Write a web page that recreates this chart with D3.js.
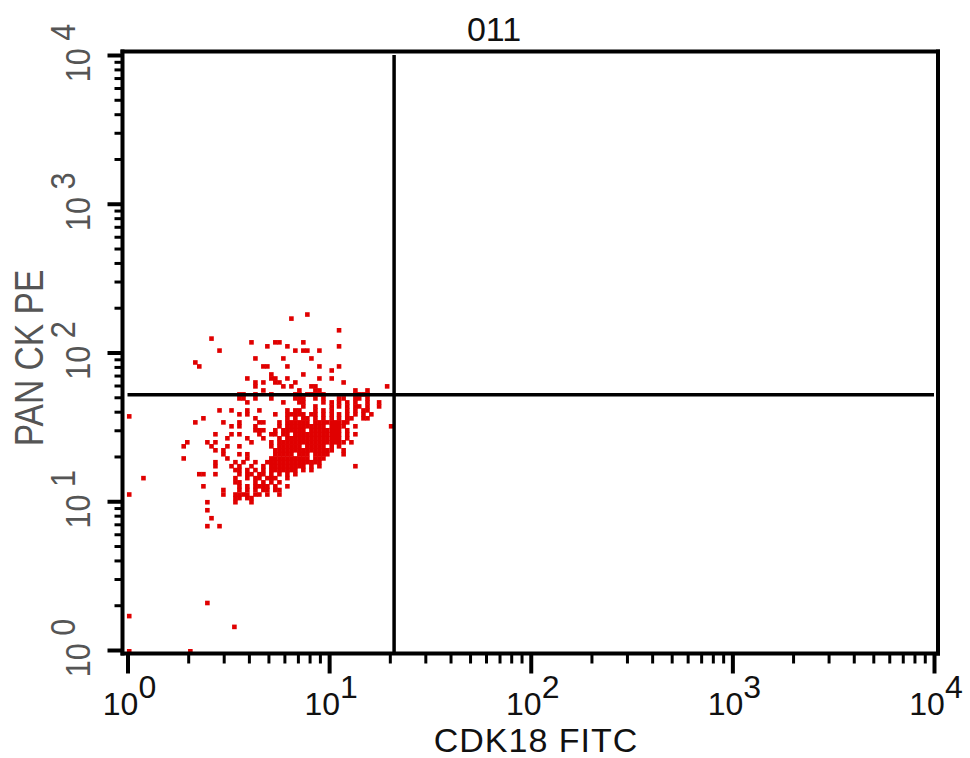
<!DOCTYPE html>
<html>
<head>
<meta charset="utf-8">
<script src="https://cdn.jsdelivr.net/npm/d3@7"></script>
<style>
  body { margin: 0; background: #fff; }
  svg { display: block; }
  text { font-family: "Liberation Sans", Arial, sans-serif; }
</style>
</head>
<body>
<svg id="chart" width="970" height="758"></svg>
<script>
// Sample and channel names
const sampleName = "011";
const xChannel = "CDK18 FITC";
const yChannel = "PAN CK PE";

// Decade ticks shared by both log axes
const decades = [1, 10, 100, 1000, 10000];
const decadeExponents = ["0", "1", "2", "3", "4"];

// Quadrant gate thresholds
const cdk18Gate = 21;
const panCkGate = 52;

// Event intensities: one PAN CK PE level per row, with the CDK18 FITC
// intensities of the events recorded at that level
const panCkPe = [180, 169, 141, 124, 117, 110, 103, 91.2, 85.7, 80.6,
  75.7, 71.2, 66.9, 62.9, 59.2, 55.6, 52.3, 49.1, 46.2, 43.4,
  40.8, 38.4, 37.2, 36.1, 33.9, 31.9, 30.0, 28.2, 26.5, 24.9,
  23.4, 22.0, 20.7, 19.4, 18.3, 17.2, 16.2, 15.2, 14.3, 13.4,
  12.6, 11.9, 11.1, 10.5, 9.85, 8.70, 7.69, 6.80, 2.07, 1.69,
  1.43, 0.98];

const cdk18Fitc = [
  [7.80],
  [6.50],
  [11.2],
  [2.61],
  [4.12, 5.41, 5.67, 7.45],
  [4.94, 6.21, 11.2],
  [2.86, 6.80, 7.45, 7.80, 8.95],
  [4.31, 5.93, 8.17],
  [2.17],
  [2.27, 4.72, 4.94, 6.21, 8.95, 11.2],
  [10.3],
  [5.17, 7.45],
  [3.93, 5.17, 5.41, 6.21, 8.95, 10.3],
  [4.31, 4.72, 5.41, 5.67, 6.80, 11.8],
  [4.31, 5.93, 6.50, 8.17, 8.55, 19.4],
  [4.72, 7.12, 8.55, 8.95, 13.5, 15.5],
  [3.59, 3.76, 4.31, 5.17, 6.80, 7.12, 7.80, 8.17, 8.55, 8.95, 9.37, 13.5, 14.1, 14.8, 15.5],
  [3.59, 3.76, 4.31, 5.17, 6.80, 7.12, 7.45, 8.55, 9.37, 11.2, 11.8, 13.5, 14.1, 15.5],
  [3.93, 5.93, 7.12, 7.45, 9.37, 10.3, 11.2, 12.3, 13.5, 15.5, 17.7],
  [7.45, 8.55, 10.3, 11.2, 12.3, 13.5, 14.1, 15.5, 17.7],
  [2.86, 3.28, 3.93, 4.51, 6.21, 6.80, 7.12, 8.55, 9.37, 10.3, 12.3, 13.5, 14.8, 15.5],
  [3.59, 3.93, 5.41, 6.21, 6.50, 6.80, 7.12, 7.45, 8.17, 8.55, 9.37, 10.3, 11.2, 12.3, 13.5, 14.8, 16.2],
  [1.02],
  [2.38, 4.31, 6.21, 6.80, 7.45, 7.80, 8.55, 9.37, 10.3, 11.2, 12.3, 12.9, 14.8, 15.5],
  [2.17, 2.99, 3.59, 4.51, 4.72, 5.67, 6.21, 6.50, 6.80, 7.12, 7.45, 7.80, 8.55, 8.95, 9.37, 9.80, 10.3, 10.7, 11.2, 11.8, 12.3],
  [3.28, 3.59, 4.31, 5.67, 6.21, 6.50, 6.80, 7.12, 7.45, 7.80, 8.17, 8.55, 8.95, 9.37, 10.3, 10.7, 11.2, 11.8, 13.5, 20.3],
  [4.31, 4.51, 4.72, 5.41, 5.93, 6.21, 6.50, 6.80, 7.12, 7.45, 8.17, 8.55, 8.95, 9.37, 9.80, 10.3, 10.7, 11.2, 12.3],
  [2.73, 3.28, 3.59, 4.51, 5.17, 5.41, 5.93, 6.21, 6.80, 7.12, 7.45, 7.80, 8.17, 8.55, 8.95, 9.37, 9.80, 10.3, 10.7, 11.2, 12.3, 13.5],
  [3.13, 3.93, 4.72, 5.67, 6.21, 6.50, 6.80, 7.12, 7.45, 7.80, 8.17, 8.55, 8.95, 9.37, 9.80, 10.3, 10.7, 11.2, 12.3],
  [1.98, 2.49, 2.73, 4.12, 5.17, 5.67, 5.93, 6.21, 6.50, 6.80, 7.12, 7.45, 7.80, 8.17, 8.55, 8.95, 9.37, 9.80, 10.3, 10.7, 11.2, 11.8, 12.9],
  [1.90, 2.61, 3.13, 3.59, 5.17, 5.67, 5.93, 6.21, 6.50, 6.80, 7.12, 7.80, 8.17, 8.55, 8.95, 9.37, 10.3, 11.2],
  [2.73, 2.99, 5.41, 5.67, 5.93, 6.21, 6.50, 6.80, 7.12, 7.45, 7.80, 8.17, 8.55, 8.95, 9.37, 9.80, 10.3, 11.8],
  [2.99, 3.59, 3.93, 5.41, 5.67, 5.93, 6.21, 6.50, 7.12, 7.45, 7.80, 8.55, 8.95, 9.37, 9.80, 11.8],
  [1.90, 3.13, 3.93, 5.17, 5.41, 5.67, 5.93, 6.21, 6.50, 6.80, 7.12, 7.45, 7.80, 8.55, 8.95, 9.37],
  [2.73, 3.43, 3.76, 4.31, 4.94, 5.17, 5.41, 5.67, 5.93, 6.21, 6.50, 6.80, 7.12, 7.45, 7.80, 8.17, 8.55, 8.95],
  [2.73, 3.28, 3.59, 4.12, 4.72, 5.17, 5.41, 5.67, 5.93, 6.21, 6.50, 6.80, 7.12, 7.45, 8.17, 8.95, 13.5],
  [3.43, 3.59, 3.93, 4.31, 4.72, 5.17, 5.41, 5.67, 5.93, 6.21, 6.50, 6.80, 7.45, 8.17],
  [2.27, 2.38, 2.73, 3.59, 3.93, 4.12, 4.51, 4.72, 5.17, 5.67, 6.21, 6.80],
  [1.20, 3.43, 3.93, 4.31, 4.51, 4.94, 5.17, 5.41, 6.21],
  [3.43, 3.59, 4.31, 4.72, 5.17, 5.67],
  [2.38, 3.59, 3.93, 4.31, 4.51, 4.72, 4.94, 5.41, 6.21],
  [2.99, 3.59, 3.93, 4.31, 4.72, 4.94, 5.41, 5.67],
  [1.02, 2.99, 3.43, 3.59, 3.76, 3.93, 4.31, 4.51, 4.94, 5.67],
  [3.43, 3.59, 3.93, 4.12],
  [2.49, 3.43, 4.12],
  [2.49],
  [2.61],
  [2.49, 2.86],
  [2.49],
  [1.02],
  [3.39],
  [1.02, 2.05]
];

// ---- layout ----
const W = 970, H = 758;
const frame = { left: 122.5, right: 938, top: 51.5, bottom: 653.5 };
const dotColor = "#e00000";
const dotSize = 4.6;

const svg = d3.select("#chart");
svg.append("rect").attr("width", W).attr("height", H).attr("fill", "#fff");

const x = d3.scaleLog().domain([1, 1e4]).range([127.5, 934]);
const y = d3.scaleLog().domain([1, 1e4]).range([650, 55]);

const isDecade = v => Math.abs(Math.log10(v) - Math.round(Math.log10(v))) < 1e-9;
const majorX = x.ticks().filter(isDecade);
const minorX = x.ticks().filter(v => !isDecade(v));
const majorY = y.ticks().filter(isDecade);
const minorY = y.ticks().filter(v => !isDecade(v));

// ---- events ----
const events = panCkPe.flatMap((pe, i) => cdk18Fitc[i].map(fitc => ({ fitc, pe })));

svg.append("g")
  .selectAll("rect")
  .data(events)
  .join("rect")
  .attr("x", d => x(d.fitc) - dotSize / 2)
  .attr("y", d => y(d.pe) - dotSize / 2)
  .attr("width", dotSize)
  .attr("height", dotSize)
  .attr("fill", dotColor);

// ---- quadrant gate ----
const gate = svg.append("g").attr("stroke", "#000").attr("stroke-width", 3.5);
gate.append("line")
  .attr("x1", x(cdk18Gate)).attr("x2", x(cdk18Gate))
  .attr("y1", y(1e4)).attr("y2", frame.bottom);
gate.append("line")
  .attr("x1", x(1)).attr("x2", x(1e4))
  .attr("y1", y(panCkGate)).attr("y2", y(panCkGate));

// ---- axes ----
function styleTicks(g, width) {
  g.select(".domain").remove();
  g.selectAll(".tick line").attr("stroke", "#000").attr("stroke-width", width);
  g.selectAll(".tick text").remove();
}

svg.append("g").attr("transform", `translate(0,${frame.bottom})`)
  .call(d3.axisBottom(x).tickValues(minorX).tickSize(10).tickSizeOuter(0))
  .call(g => styleTicks(g, 3));
svg.append("g").attr("transform", `translate(0,${frame.bottom})`)
  .call(d3.axisBottom(x).tickValues(majorX).tickSize(20).tickSizeOuter(0))
  .call(g => styleTicks(g, 4));

svg.append("g").attr("transform", `translate(${frame.left},0)`)
  .call(d3.axisLeft(y).tickValues(minorY).tickSize(8).tickSizeOuter(0))
  .call(g => styleTicks(g, 3));
svg.append("g").attr("transform", `translate(${frame.left},0)`)
  .call(d3.axisLeft(y).tickValues(majorY).tickSize(15).tickSizeOuter(0))
  .call(g => styleTicks(g, 4));

// frame
const border = svg.append("g").attr("stroke", "#000").attr("stroke-width", 4).attr("stroke-linecap", "square");
border.append("line").attr("x1", frame.left).attr("x2", frame.right).attr("y1", frame.top).attr("y2", frame.top);
border.append("line").attr("x1", frame.right).attr("x2", frame.right).attr("y1", frame.top).attr("y2", frame.bottom);
border.append("line").attr("x1", frame.left).attr("x2", frame.right).attr("y1", frame.bottom).attr("y2", frame.bottom);
border.append("line").attr("x1", frame.left).attr("x2", frame.left).attr("y1", frame.top).attr("y2", frame.bottom);

// ---- tick labels ----
svg.append("g").selectAll("text")
  .data(decades)
  .join("text")
  .attr("x", d => x(d) + 2)
  .attr("y", 715)
  .attr("text-anchor", "middle")
  .attr("font-size", 32)
  .attr("fill", "#111")
  .each(function (d, i) {
    const t = d3.select(this);
    t.append("tspan").text("10");
    t.append("tspan").attr("dy", -17).text(decadeExponents[i]);
  });

svg.append("g").selectAll("g")
  .data(decades)
  .join("g")
  .attr("transform", d => `translate(90,${y(d) - 2}) rotate(-90)`)
  .append("text")
  .attr("transform", "scale(0.85,1)")
  .attr("text-anchor", "middle")
  .attr("font-size", 36)
  .attr("fill", "#555")
  .each(function (d, i) {
    const t = d3.select(this);
    t.append("tspan").text("10");
    t.append("tspan").attr("dx", 9).attr("dy", -15).text(decadeExponents[i]);
  });

// ---- titles ----
svg.append("text")
  .attr("x", 494).attr("y", 41)
  .attr("text-anchor", "middle")
  .attr("font-size", 34)
  .attr("fill", "#111")
  .text(sampleName);

svg.append("text")
  .attr("x", 536).attr("y", 752)
  .attr("text-anchor", "middle")
  .attr("font-size", 34)
  .attr("letter-spacing", 1)
  .attr("fill", "#111")
  .text(xChannel);

svg.append("g")
  .attr("transform", "translate(43,358) rotate(-90)")
  .append("text")
  .attr("transform", "scale(0.84,1)")
  .attr("text-anchor", "middle")
  .attr("font-size", 40)
  .attr("fill", "#555")
  .text(yChannel);
</script>
</body>
</html>
